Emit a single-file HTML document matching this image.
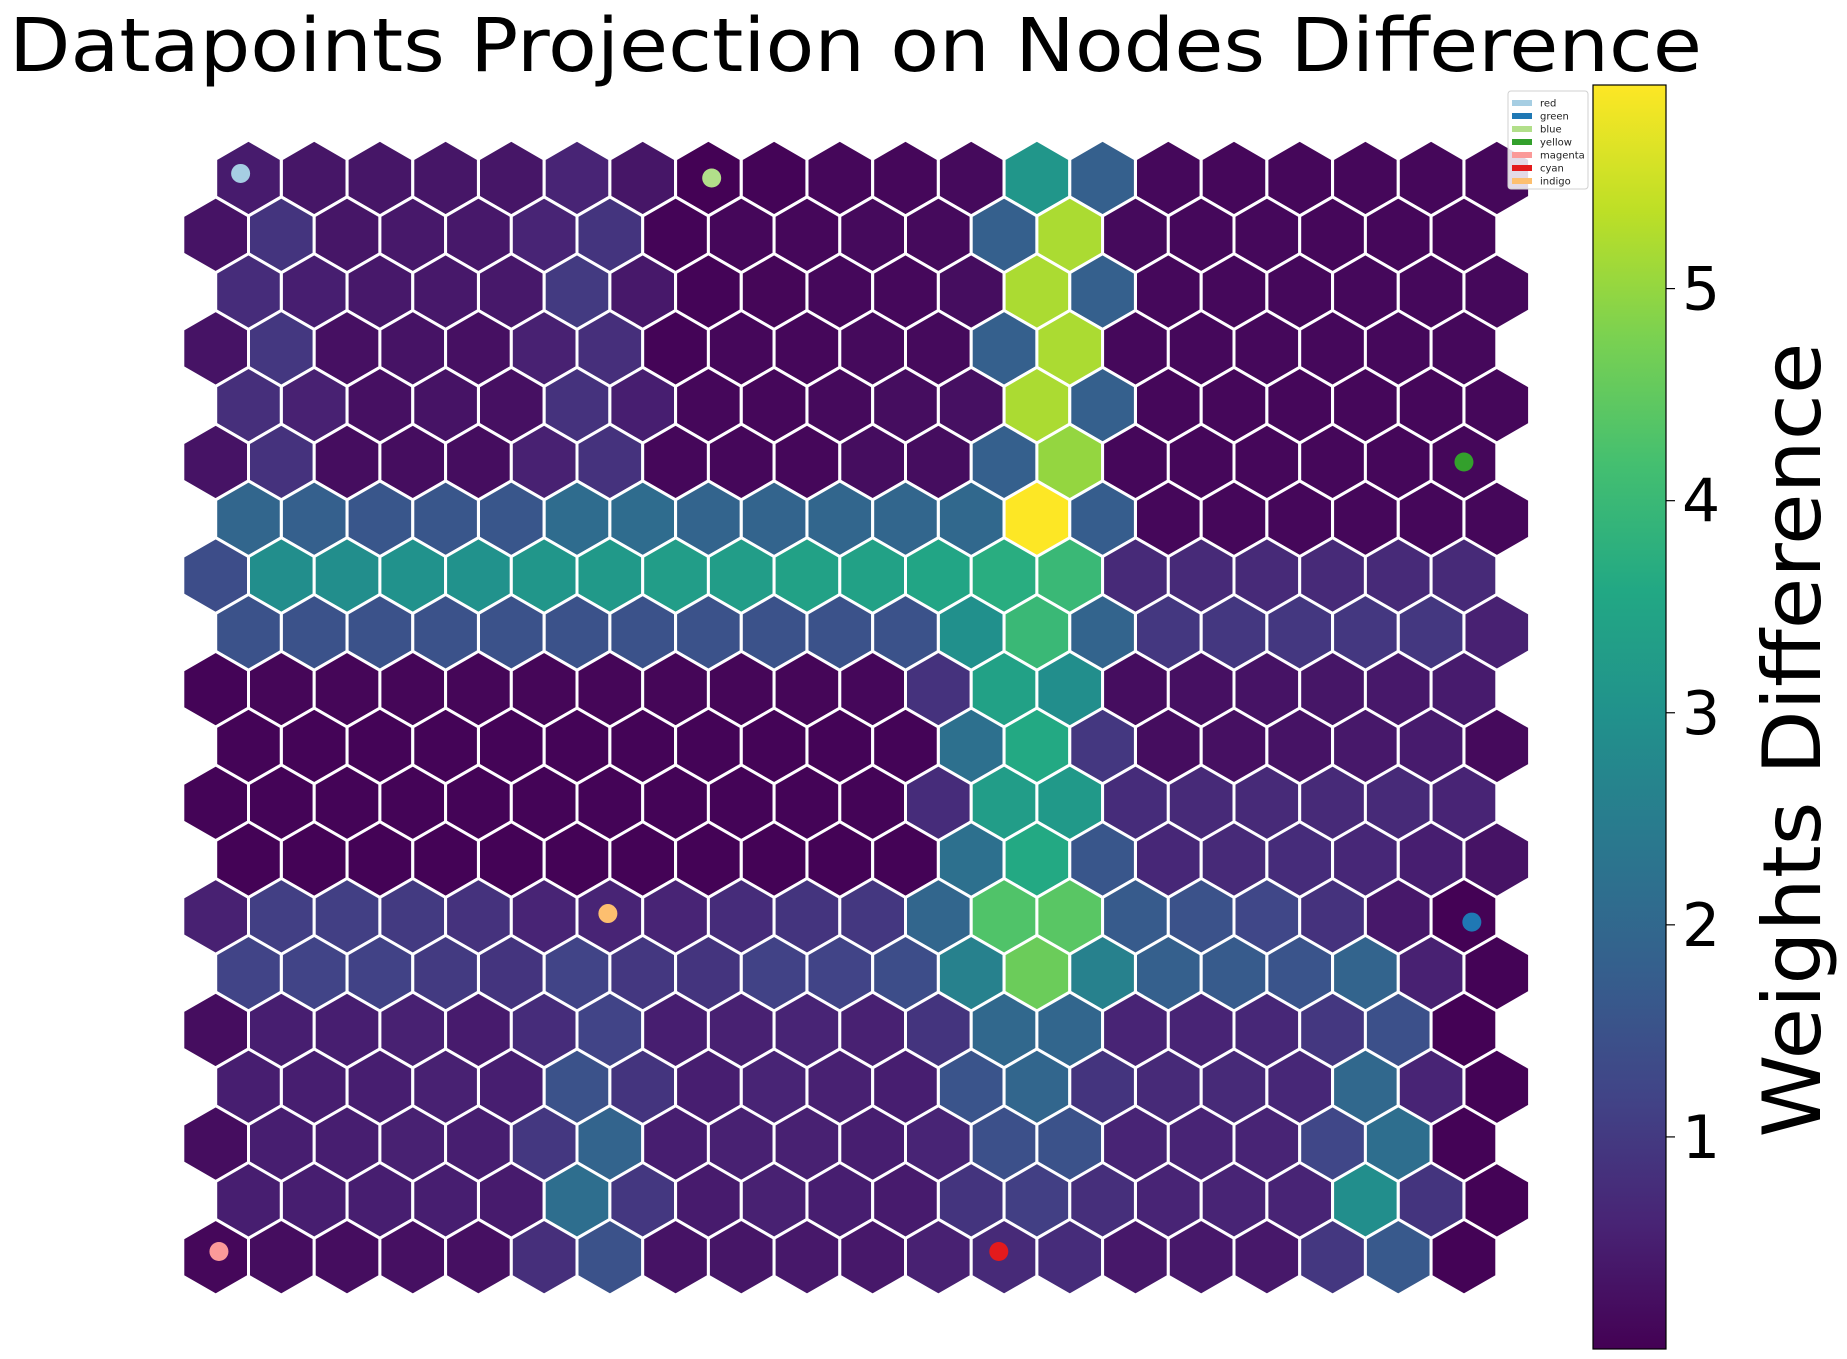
<!DOCTYPE html>
<html><head><meta charset="utf-8"><style>
html,body{margin:0;padding:0;background:#fff}
svg{display:block}
text{font-family:"DejaVu Sans","Liberation Sans",sans-serif}
</style></head><body>
<svg id="chart" width="1847" height="1359" viewBox="0 0 1847 1359" xmlns="http://www.w3.org/2000/svg">
<text x="9" y="71" font-size="74" textLength="1693" lengthAdjust="spacingAndGlyphs" fill="#000">Datapoints Projection on Nodes Difference</text>
<g id="hexes"></g>
<g id="dots"></g>
<defs><linearGradient id="vir" x1="0" y1="1" x2="0" y2="0"></linearGradient></defs>
<g>
<rect x="1593" y="85" width="73" height="1264" fill="url(#vir)" stroke="#000" stroke-width="1.2"/>
<g id="cticks"></g>
<text transform="translate(1820,740) rotate(-90)" text-anchor="middle" font-size="80" textLength="795" lengthAdjust="spacingAndGlyphs" fill="#000">Weights Difference</text>
</g>
<g id="legend">
<rect x="1508" y="91" width="80" height="98" rx="3" fill="#fff" fill-opacity="0.85" stroke="#d0d0d0" stroke-width="1"/>
</g>
</svg>
<script>
const NS="http://www.w3.org/2000/svg";
// U-matrix values, rows top->bottom, 20 columns each
const row0=[0.45,0.35,0.35,0.35,0.35,0.6,0.35,0.02,0.05,0.1,0.1,0.15,3.1,1.8,0.12,0.1,0.1,0.1,0.1,0.1];
const row1=[0.3,0.9,0.35,0.4,0.4,0.6,0.9,0.05,0.1,0.1,0.15,0.15,1.8,5.2,0.15,0.12,0.12,0.1,0.1,0.1];
const row2=[0.75,0.5,0.4,0.4,0.4,1.0,0.4,0.05,0.08,0.12,0.12,0.2,5.2,1.8,0.12,0.12,0.12,0.12,0.12,0.12];
const row3=[0.3,0.95,0.25,0.3,0.25,0.55,0.8,0.05,0.1,0.1,0.15,0.15,1.8,5.2,0.12,0.12,0.12,0.12,0.12,0.12];
const row4=[0.8,0.55,0.25,0.3,0.25,0.85,0.5,0.1,0.1,0.15,0.2,0.25,5.2,1.8,0.1,0.1,0.1,0.1,0.1,0.1];
const row5=[0.3,0.85,0.2,0.2,0.2,0.55,0.85,0.1,0.1,0.1,0.2,0.2,1.8,5.0,0.1,0.1,0.1,0.1,0.1,0.1];
const row6=[1.95,1.8,1.6,1.6,1.6,2.1,2.1,1.9,1.9,1.95,1.95,2.0,5.96,1.75,0.1,0.1,0.1,0.1,0.1,0.1];
const row7=[1.4,2.9,2.9,3.0,3.0,3.1,3.2,3.3,3.3,3.4,3.4,3.5,3.7,4.0,0.7,0.7,0.7,0.7,0.7,0.7];
const row8=[1.5,1.5,1.5,1.5,1.5,1.5,1.5,1.5,1.5,1.5,1.5,2.95,4.0,1.9,0.95,0.95,0.95,0.95,0.95,0.55];
const row9=[0.05,0.08,0.08,0.08,0.08,0.08,0.08,0.08,0.08,0.08,0.1,0.85,3.4,2.9,0.2,0.25,0.3,0.35,0.4,0.45];
const row10=[0.05,0.05,0.05,0.05,0.05,0.05,0.05,0.05,0.05,0.05,0.05,2.2,3.6,0.95,0.2,0.25,0.3,0.4,0.45,0.15];
const row11=[0.05,0.05,0.05,0.05,0.05,0.05,0.05,0.05,0.05,0.05,0.05,0.75,3.3,3.2,0.75,0.7,0.7,0.7,0.7,0.6];
const row12=[0.03,0.03,0.03,0.03,0.03,0.03,0.03,0.03,0.03,0.03,0.03,2.2,3.6,1.6,0.65,0.7,0.75,0.65,0.5,0.3];
const row13=[0.55,1.1,1.1,1.0,0.85,0.6,0.6,0.6,0.75,0.9,0.95,1.95,4.3,4.4,1.7,1.5,1.25,0.85,0.4,0.02];
const row14=[1.2,1.2,1.15,1.0,0.9,1.2,0.95,0.9,1.15,1.2,1.4,2.6,4.6,2.6,1.8,1.7,1.55,1.9,0.55,0.03];
const row15=[0.2,0.5,0.5,0.55,0.45,0.75,1.2,0.5,0.55,0.6,0.55,0.9,2.0,1.95,0.6,0.6,0.65,0.95,1.45,0.02];
const row16=[0.5,0.5,0.5,0.55,0.5,1.5,0.9,0.5,0.6,0.55,0.5,1.55,1.95,0.9,0.7,0.7,0.65,2.0,0.6,0.03];
const row17=[0.2,0.5,0.5,0.55,0.5,0.95,1.9,0.5,0.55,0.55,0.5,0.6,1.45,1.5,0.6,0.6,0.6,1.25,2.15,0.03];
const row18=[0.5,0.5,0.5,0.5,0.45,2.15,0.95,0.45,0.55,0.5,0.45,0.9,1.1,0.8,0.6,0.6,0.6,2.9,0.9,0.03];
const row19=[0.1,0.2,0.2,0.25,0.25,0.8,1.5,0.3,0.35,0.4,0.4,0.55,0.7,0.75,0.4,0.4,0.4,0.95,1.65,0.03];
const grid=[row0,row1,row2,row3,row4,row5,row6,row7,row8,row9,row10,row11,row12,row13,row14,row15,row16,row17,row18,row19];
// datapoints: label, row, col, jitter (cell units)
const ptLabels=["red","green","blue","yellow","magenta","cyan","indigo"];
const ptRows=[0,13,0,5,19,19,13];
const ptCols=[0,19,7,19,0,12,6];
const ptJx=[-0.12,0.12,0.05,0.0,0.05,-0.08,-0.03];
const ptJy=[-0.08,0.1,0.0,0.0,-0.1,-0.1,-0.05];
const ptColors=["#a6cee3","#1f78b4","#b2df8a","#33a02c","#fb9a99","#e31a1c","#fdbf6f"];
const cbTicks=[1,2,3,4,5];
const vmin=0, vmax=5.96;

const VIR=["#440154","#482475","#414487","#355f8d","#2a788e","#21918c","#22a884","#44bf70","#7ad151","#bddf26","#fde725"];
function hex2rgb(h){return [1,3,5].map(i=>parseInt(h.substr(i,2),16));}
function viridis(t){t=Math.max(0,Math.min(1,t));const p=t*(VIR.length-1);const i=Math.min(Math.floor(p),VIR.length-2);const f=p-i;
 const a=hex2rgb(VIR[i]),b=hex2rgb(VIR[i+1]);return "rgb("+a.map((v,k)=>Math.round(v+(b[k]-v)*f)).join(",")+")";}

const X0=248.5, DX=65.7, Y0=178, DY=56.8, R=37.9;
function cx(r,c){return X0+c*DX-(r%2===1?DX/2:0);}
function cy(r){return Y0+r*DY;}
const hg=document.getElementById('hexes');
grid.forEach((row,r)=>row.forEach((v,c)=>{
 const x=cx(r,c),y=cy(r);let pts=[];
 for(let k=0;k<6;k++){const a=Math.PI/180*(60*k-90);pts.push((x+R*Math.cos(a)).toFixed(1)+","+(y+R*Math.sin(a)).toFixed(1));}
 const p=document.createElementNS(NS,'polygon');
 p.setAttribute('points',pts.join(' '));
 p.setAttribute('fill',viridis((v-vmin)/(vmax-vmin)));
 p.setAttribute('stroke','#fff');p.setAttribute('stroke-width','3');
 
 
 hg.appendChild(p);
}));
const dg=document.getElementById('dots');
ptLabels.forEach((l,i)=>{
 const c=document.createElementNS(NS,'circle');
 c.setAttribute('cx',cx(ptRows[i],ptCols[i])+ptJx[i]*DX);
 c.setAttribute('cy',cy(ptRows[i])+ptJy[i]*DY);
 c.setAttribute('r','9.5');c.setAttribute('fill',ptColors[i]);
 
 
 dg.appendChild(c);
});
// colorbar
const grad=document.getElementById('vir');
VIR.forEach((col,i)=>{const s=document.createElementNS(NS,'stop');s.setAttribute('offset',(i/(VIR.length-1)));s.setAttribute('stop-color',col);grad.appendChild(s);});
const CB_TOP=85, CB_BOT=1349;
function cbY(v){return CB_BOT-(v-vmin)/(vmax-vmin)*(CB_BOT-CB_TOP);}
const tg=document.getElementById('cticks');
cbTicks.forEach(v=>{
 const y=cbY(v);
 const ln=document.createElementNS(NS,'line');
 ln.setAttribute('x1',1666);ln.setAttribute('x2',1675);ln.setAttribute('y1',y);ln.setAttribute('y2',y);
 ln.setAttribute('stroke','#000');ln.setAttribute('stroke-width','1.2');
 
 
 tg.appendChild(ln);
 const t=document.createElementNS(NS,'text');
 t.setAttribute('x',1682);t.setAttribute('y',y+21);t.setAttribute('font-size','60');
 t.textContent=v;
 
 
 tg.appendChild(t);
});
// legend
const lg=document.getElementById('legend');
ptLabels.forEach((l,i)=>{
 const y=103+i*13;
 const r=document.createElementNS(NS,'rect');
 r.setAttribute('x',1512);r.setAttribute('y',y-3);r.setAttribute('width',20);r.setAttribute('height',6);r.setAttribute('fill',ptColors[i]);
 
 
 lg.appendChild(r);
 const t=document.createElementNS(NS,'text');
 t.setAttribute('x',1540);t.setAttribute('y',y+3.5);t.setAttribute('font-size','10');t.setAttribute('fill','#222');
 t.textContent=l;
 
 
 lg.appendChild(t);
});
</script>
</body></html>
